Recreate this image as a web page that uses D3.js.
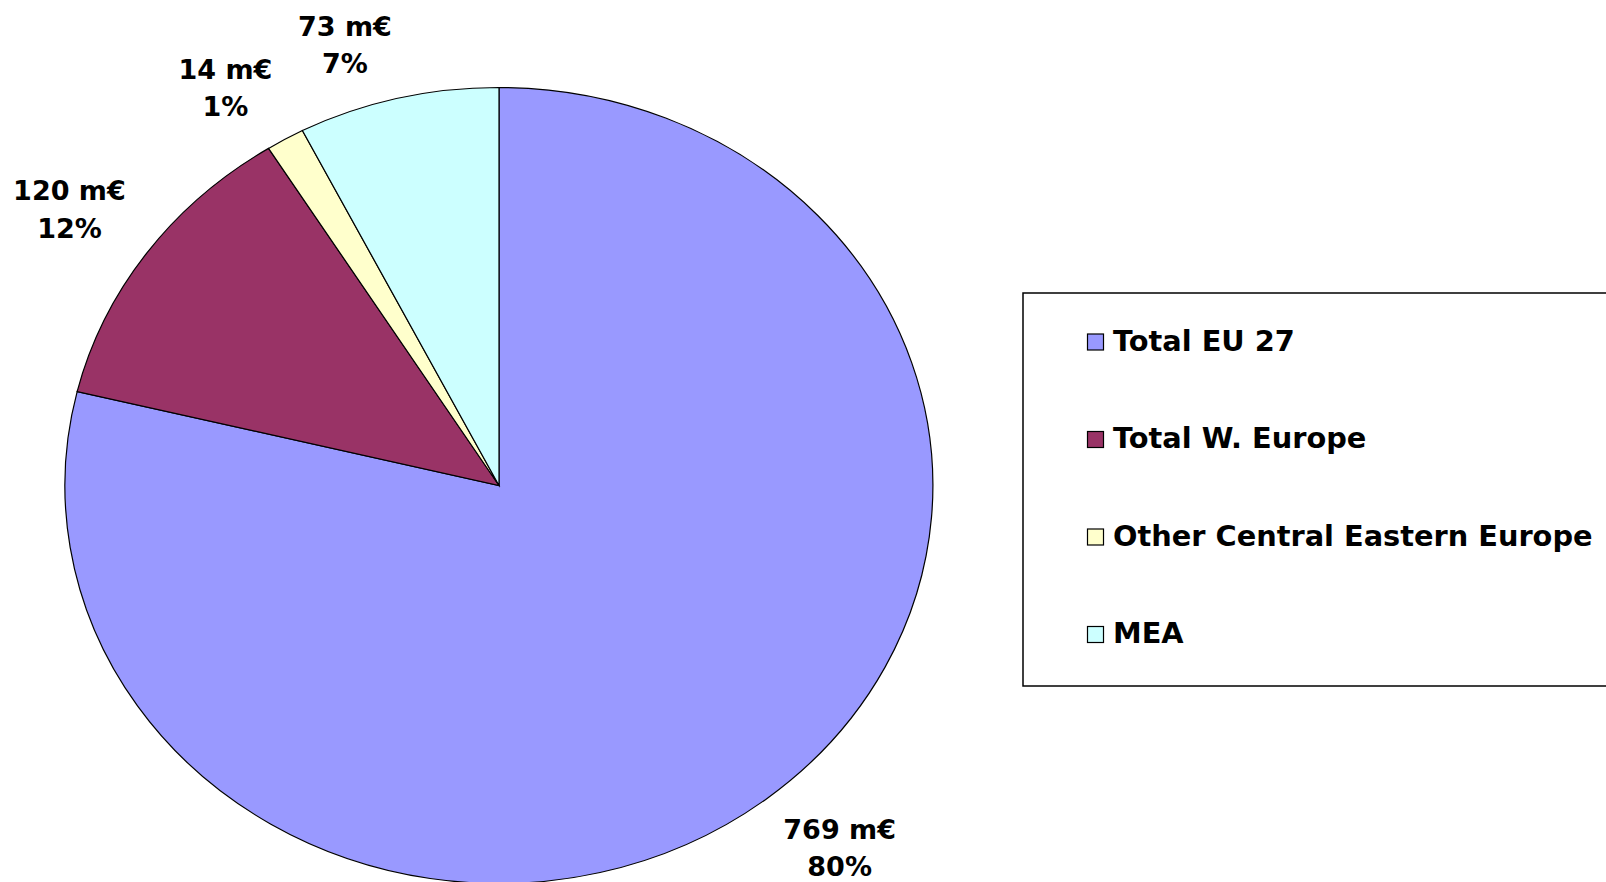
<!DOCTYPE html>
<html>
<head>
<meta charset="utf-8">
<script src="https://cdn.jsdelivr.net/npm/d3@7"></script>
<style>
  body { margin: 0; background: #fff; }
  svg { display: block; font-family: "DejaVu Sans", Verdana, sans-serif; font-weight: bold; }
</style>
</head>
<body>
<svg width="1606" height="882"></svg>
<script>
// values
const categories = ["Total EU 27", "Total W. Europe", "Other Central Eastern Europe", "MEA"];
const values = [769, 120, 14, 73];
const percents = [80, 12, 1, 7];
const colors = ["#9999FF", "#993366", "#FFFFCC", "#CCFFFF"];

const svg = d3.select("svg");

// the pie is drawn a bit wider than tall, like the original
const cx = 499, cy = 485.5, rx = 434, ry = 398;

const pie = d3.pie().sort(null).value((d) => d.value);
const arcs = pie(categories.map((c, i) => ({ name: c, value: values[i], pct: percents[i], color: colors[i] })));

const arc = d3.arc().innerRadius(0).outerRadius(1);

svg.append("g")
	.attr("transform", `translate(${cx},${cy}) scale(${rx},${ry})`)
	.selectAll("path")
	.data(arcs)
	.enter()
	.append("path")
	.attr("d", arc)
	.attr("fill", (d) => d.data.color)
	.attr("stroke", "#000")
	.attr("stroke-width", 1.2)
	.attr("vector-effect", "non-scaling-stroke");

// labels sit just outside the rim, on the outer side of the mid angle
const gap = 26, cap = 20, lineGap = 37.5;
const labels = svg.append("g").attr("font-size", 27).attr("text-anchor", "middle").attr("fill", "#000");

arcs.forEach((d) => {
	const a = (d.startAngle + d.endAngle) / 2;
	const s = Math.sin(a), c = Math.cos(a);
	const px = cx + rx * s + gap * s;
	const py = cy - ry * c - gap * c;
	const g = labels.append("g");
	const t1 = g.append("text").text(`${d.data.value} m€`);
	const t2 = g.append("text").text(`${d.data.pct}%`);
	const hw = Math.max(t1.node().getComputedTextLength(), t2.node().getComputedTextLength()) / 2;
	const hh = (lineGap + cap) / 2;
	const mx = px + Math.sign(s) * hw;
	const my = py - Math.sign(c) * hh;
	t1.attr("x", mx).attr("y", my - hh + cap);
	t2.attr("x", mx).attr("y", my - hh + cap + lineGap);
});

// legend
const legend = svg.append("g");
legend.append("rect")
	.attr("x", 1023).attr("y", 293)
	.attr("width", 640).attr("height", 393)
	.attr("fill", "#fff")
	.attr("stroke", "#000")
	.attr("stroke-width", 1.5);

const rowY = d3.scaleLinear().domain([0, categories.length - 1]).range([350.5, 643]);

const items = legend.selectAll(".item")
	.data(categories)
	.enter()
	.append("g")
	.attr("transform", (d, i) => `translate(1087,${rowY(i)})`);

items.append("rect")
	.attr("x", 0.5).attr("y", -16.5)
	.attr("width", 16).attr("height", 16)
	.attr("fill", (d, i) => colors[i])
	.attr("stroke", "#000")
	.attr("stroke-width", 1.2);

items.append("text")
	.attr("x", 26)
	.attr("y", 0)
	.attr("font-size", 28.8)
	.text((d) => d);
</script>
</body>
</html>
